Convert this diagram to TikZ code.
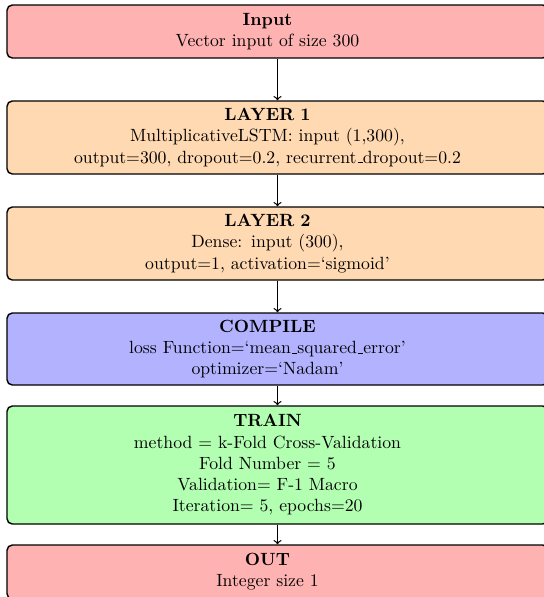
\documentclass[tikz,border=0pt]{standalone}
\usetikzlibrary{arrows}
% underscore drawn as a short rule on the baseline
\newcommand\ulbar{\leavevmode\kern.06em\vbox{\hrule width.3em}}
\def\px{0.565pt}
\tikzset{
  stage/.style={draw=black, line width=0.8pt, rounded corners=3pt,
    inner sep=0pt, text width=530*\px, minimum width=541*\px,
    % lines are centred a little left of the box centre
    execute at begin node={\centering\rightskip=11.3pt plus 1fil\relax}},
  flow/.style={->, line width=0.7pt},
}
\begin{document}
\begin{tikzpicture}[x=\px, y=-\px]
\useasboundingbox (0,0) rectangle (544,597);
\node[stage, fill=red!30, minimum height=53*\px] (in) at (277.5,31.5)
  {\textbf{Input}\\Vector input of size 300};
\node[stage, fill=orange!30, minimum height=73*\px] (l1) at (277.5,137.5)
  {\textbf{LAYER 1}\\MultiplicativeLSTM: input (1,300),\\output=300, dropout=0.2, recurrent\ulbar dropout=0.2};
\node[stage, fill=orange!30, minimum height=73*\px] (l2) at (277.5,243.5)
  {\textbf{LAYER 2}\\Dense: input (300),\\output=1, activation=`sigmoid'};
\node[stage, fill=blue!30, minimum height=72*\px] (cp) at (277.5,349)
  {\textbf{COMPILE}\\loss Function=`mean\ulbar squared\ulbar error'\\optimizer=`Nadam'};
\node[stage, fill=green!30, minimum height=118*\px] (tr) at (277.5,465)
  {\textbf{TRAIN}\\method = k-Fold Cross-Validation\\Fold Number = 5\\Validation= F-1 Macro\\Iteration= 5, epochs=20};
\node[stage, fill=red!30, minimum height=54*\px] (out) at (277.5,572)
  {\textbf{OUT}\\Integer size 1};
\draw[flow] (in) -- (l1);
\draw[flow] (l1) -- (l2);
\draw[flow] (l2) -- (cp);
\draw[flow] (cp) -- (tr);
\draw[flow] (tr) -- (out);
\end{tikzpicture}
\end{document}
